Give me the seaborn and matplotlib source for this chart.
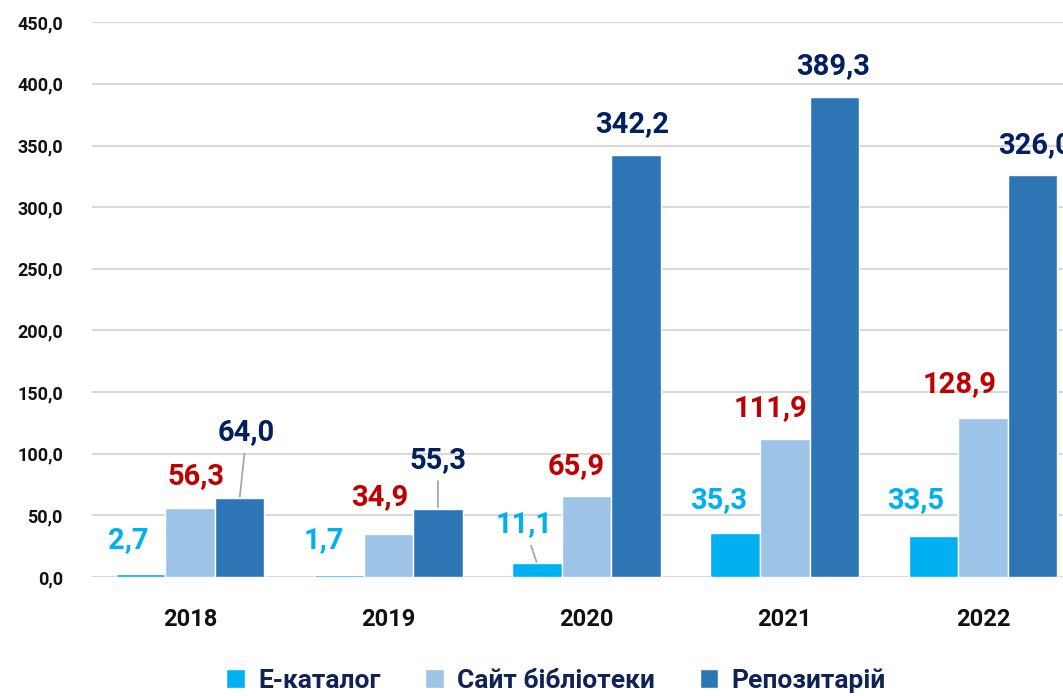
import numpy as np
import pandas as pd
import matplotlib
matplotlib.use("Agg")
import matplotlib.pyplot as plt
from matplotlib.patches import Patch
from matplotlib.ticker import FuncFormatter
import seaborn as sns

# data
years = ["2018", "2019", "2020", "2021", "2022"]
series = ["Е-каталог", "Сайт бібліотеки", "Репозитарій"]
e_catalog = [2.7, 1.7, 11.1, 35.3, 33.5]
site = [56.3, 34.9, 65.9, 111.9, 128.9]
repo = [64.0, 55.3, 342.2, 389.3, 326.0]

bar_colors = ["#00B0F0", "#9DC3E6", "#2E75B6"]
label_colors = ["#00B0F0", "#C00000", "#002060"]

# label offsets from bar top (pixels), per series / year
offsets = [
    [(-12, 34), (-15, 35), (-13, 39), (-17, 33), (-18, 36)],
    [(6, 31), (-9, 37), (-10, 30), (-14, 31), (-23, 34)],
    [(7, 66), (0, 49), (-4, 31), (-1, 31), (3, 30)],
]
leaders = {(2, 0), (2, 1), (0, 2)}

df = pd.DataFrame({
    "year": years * 3,
    "series": [s for s in series for _ in years],
    "value": e_catalog + site + repo,
})

sns.set_style("white")
plt.rcParams["font.family"] = ["Roboto", "DejaVu Sans"]

fig = plt.figure(figsize=(10.63, 6.96), dpi=100)
ax = fig.add_axes([0.0866, 0.171, 0.9134, 0.797])

sns.barplot(data=df, x="year", y="value", hue="series", hue_order=series,
            palette=bar_colors, width=0.75, edgecolor="white", linewidth=1,
            saturation=1, legend=False, ax=ax)

ax.set_ylim(0, 450)
ax.set_xlim(-0.495, 4.404)
ax.set_yticks(np.arange(0, 451, 50))
ax.yaxis.set_major_formatter(FuncFormatter(lambda v, p: f"{v:.1f}".replace(".", ",")))
ax.grid(axis="y", color="#d9d9d9", lw=1.5)
ax.set_axisbelow(True)
for s in ax.spines.values():
    s.set_visible(False)
ax.set_xlabel("")
ax.set_ylabel("")
ax.tick_params(axis="y", length=0, pad=21, labelsize=13)
ax.tick_params(axis="x", length=0, pad=22, labelsize=17)
for t in ax.get_yticklabels() + ax.get_xticklabels():
    t.set_fontweight("bold")
    t.set_color("#111111")

for i, cont in enumerate(ax.containers):
    for j, bar in enumerate(cont):
        x = bar.get_x() + bar.get_width() / 2
        h = bar.get_height()
        dx, dy = offsets[i][j]
        arrow = None
        if (i, j) in leaders:
            arrow = dict(arrowstyle="-", color="#a6a6a6", lw=1.3, shrinkA=3, shrinkB=1)
        ax.annotate(f"{h:.1f}".replace(".", ","), xy=(x, h),
                    xytext=(dx, dy), textcoords="offset pixels",
                    ha="center", va="center", fontsize=21, fontweight="bold",
                    color=label_colors[i], arrowprops=arrow, annotation_clip=False)

handles = [Patch(facecolor=c) for c in bar_colors]
fig.legend(handles, series, loc="center", bbox_to_anchor=(0.523, 0.022), ncol=3,
           frameon=False, handlelength=0.7, handleheight=0.7, columnspacing=1.7,
           handletextpad=0.5, labelcolor="#0f2356",
           prop={"size": 19, "weight": "bold"})

fig.savefig("out.png", dpi=100)
